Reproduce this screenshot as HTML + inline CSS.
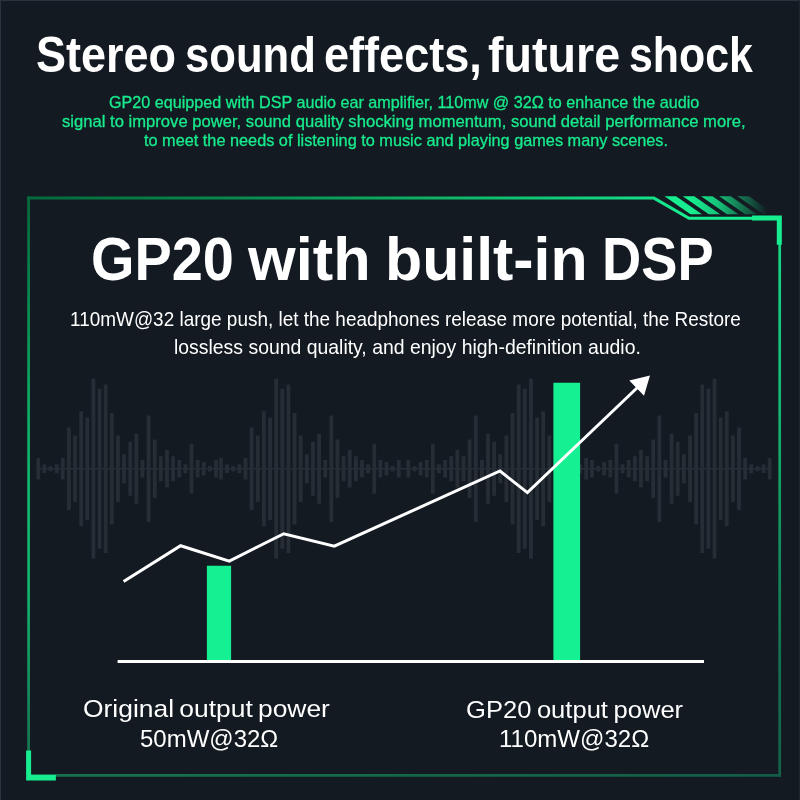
<!DOCTYPE html>
<html><head><meta charset="utf-8"><title>GP20 with built-in DSP</title>
<style>
html,body{margin:0;padding:0;background:#131a22;}
body{width:800px;height:800px;position:relative;overflow:hidden;font-family:"Liberation Sans",sans-serif;}
svg{position:absolute;left:0;top:0;}
.t{position:absolute;white-space:nowrap;line-height:1;transform-origin:0 0;}
h1,h2,p{margin:0;padding:0;font:inherit;}
.w{color:#fff;}
.g{color:#18ea8c;-webkit-text-stroke:0.3px #18ea8c;}
</style></head><body>
<svg width="800" height="800" viewBox="0 0 800 800">
<defs>
<linearGradient id="gt" gradientUnits="userSpaceOnUse" x1="27" y1="0" x2="690" y2="0"><stop offset="0" stop-color="#05693c"/><stop offset="0.291" stop-color="#08874b"/><stop offset="0.593" stop-color="#0eaf64"/><stop offset="0.894" stop-color="#14d782"/><stop offset="1" stop-color="#17ee90"/></linearGradient>
<linearGradient id="gr" gradientUnits="userSpaceOnUse" x1="0" y1="220" x2="0" y2="776"><stop offset="0" stop-color="#17dc88"/><stop offset="0.32" stop-color="#15b872"/><stop offset="0.5" stop-color="#129c61"/><stop offset="0.78" stop-color="#137350"/><stop offset="1" stop-color="#14604a"/></linearGradient>
<linearGradient id="gb" gradientUnits="userSpaceOnUse" x1="30" y1="0" x2="780" y2="0"><stop offset="0" stop-color="#15744e"/><stop offset="1" stop-color="#135c46"/></linearGradient>
<linearGradient id="gl" gradientUnits="userSpaceOnUse" x1="0" y1="198" x2="0" y2="776"><stop offset="0" stop-color="#05693c"/><stop offset="0.17" stop-color="#088a4e"/><stop offset="0.34" stop-color="#0caa60"/><stop offset="0.5" stop-color="#10b86c"/><stop offset="0.68" stop-color="#12b46c"/><stop offset="0.87" stop-color="#148a5a"/><stop offset="0.95" stop-color="#167850"/><stop offset="1" stop-color="#167850"/></linearGradient>
<linearGradient id="gs" gradientUnits="userSpaceOnUse" x1="690" y1="0" x2="768" y2="0"><stop offset="0" stop-color="#17ee90" stop-opacity="1"/><stop offset="0.35" stop-color="#17ee90" stop-opacity="0.8"/><stop offset="1" stop-color="#17ee90" stop-opacity="0"/></linearGradient>
</defs>
<rect x="0" y="0" width="800" height="1" fill="#2a323b"/><rect x="0" y="0" width="1" height="800" fill="#2a323b"/><rect x="799" y="0" width="1" height="800" fill="#1d252d"/>
<g fill="#262d35"><rect x="36.35" y="458.00" width="3.80" height="21.50"/><rect x="42.48" y="464.50" width="3.80" height="8.50"/><rect x="48.61" y="466.15" width="3.80" height="5.20"/><rect x="54.74" y="464.25" width="3.80" height="9.00"/><rect x="60.87" y="458.00" width="3.80" height="21.50"/><rect x="67.00" y="427.50" width="3.80" height="82.50"/><rect x="73.13" y="435.50" width="3.80" height="66.50"/><rect x="79.26" y="411.25" width="3.80" height="115.00"/><rect x="85.39" y="417.50" width="3.80" height="102.50"/><rect x="91.52" y="378.75" width="3.80" height="180.00"/><rect x="97.65" y="388.75" width="3.80" height="160.00"/><rect x="103.78" y="384.50" width="3.80" height="168.50"/><rect x="109.91" y="413.00" width="3.80" height="111.50"/><rect x="116.04" y="435.50" width="3.80" height="66.50"/><rect x="122.17" y="454.25" width="3.80" height="29.00"/><rect x="128.30" y="441.75" width="3.80" height="54.00"/><rect x="134.43" y="433.75" width="3.80" height="70.00"/><rect x="140.56" y="460.00" width="3.80" height="17.50"/><rect x="146.69" y="415.50" width="3.80" height="106.50"/><rect x="152.82" y="439.50" width="3.80" height="58.50"/><rect x="158.95" y="456.25" width="3.80" height="25.00"/><rect x="165.08" y="450.00" width="3.80" height="37.50"/><rect x="171.21" y="456.25" width="3.80" height="25.00"/><rect x="177.34" y="460.00" width="3.80" height="17.50"/><rect x="183.47" y="464.25" width="3.80" height="9.00"/><rect x="189.60" y="443.75" width="3.80" height="50.00"/><rect x="195.73" y="460.00" width="3.80" height="17.50"/><rect x="201.86" y="462.00" width="3.80" height="13.50"/><rect x="207.99" y="466.05" width="3.80" height="5.40"/><rect x="214.12" y="460.00" width="3.80" height="17.50"/><rect x="219.10" y="458.00" width="3.80" height="21.50"/><rect x="225.23" y="464.50" width="3.80" height="8.50"/><rect x="231.36" y="466.15" width="3.80" height="5.20"/><rect x="237.49" y="464.25" width="3.80" height="9.00"/><rect x="243.62" y="458.00" width="3.80" height="21.50"/><rect x="249.75" y="427.50" width="3.80" height="82.50"/><rect x="255.88" y="435.50" width="3.80" height="66.50"/><rect x="262.01" y="411.25" width="3.80" height="115.00"/><rect x="268.14" y="417.50" width="3.80" height="102.50"/><rect x="274.27" y="378.75" width="3.80" height="180.00"/><rect x="280.40" y="388.75" width="3.80" height="160.00"/><rect x="286.53" y="384.50" width="3.80" height="168.50"/><rect x="292.66" y="413.00" width="3.80" height="111.50"/><rect x="298.79" y="435.50" width="3.80" height="66.50"/><rect x="304.92" y="454.25" width="3.80" height="29.00"/><rect x="311.05" y="441.75" width="3.80" height="54.00"/><rect x="317.18" y="433.75" width="3.80" height="70.00"/><rect x="323.31" y="460.00" width="3.80" height="17.50"/><rect x="329.44" y="415.50" width="3.80" height="106.50"/><rect x="335.57" y="439.50" width="3.80" height="58.50"/><rect x="341.70" y="456.25" width="3.80" height="25.00"/><rect x="347.83" y="450.00" width="3.80" height="37.50"/><rect x="353.96" y="456.25" width="3.80" height="25.00"/><rect x="360.09" y="460.00" width="3.80" height="17.50"/><rect x="366.22" y="464.25" width="3.80" height="9.00"/><rect x="372.35" y="443.75" width="3.80" height="50.00"/><rect x="378.48" y="460.00" width="3.80" height="17.50"/><rect x="384.61" y="462.00" width="3.80" height="13.50"/><rect x="390.74" y="466.05" width="3.80" height="5.40"/><rect x="396.87" y="460.00" width="3.80" height="17.50"/><rect x="406.43" y="460.00" width="3.80" height="17.50"/><rect x="412.56" y="466.05" width="3.80" height="5.40"/><rect x="418.69" y="462.00" width="3.80" height="13.50"/><rect x="424.82" y="460.00" width="3.80" height="17.50"/><rect x="430.95" y="443.75" width="3.80" height="50.00"/><rect x="437.08" y="464.25" width="3.80" height="9.00"/><rect x="443.21" y="460.00" width="3.80" height="17.50"/><rect x="449.34" y="456.25" width="3.80" height="25.00"/><rect x="455.47" y="450.00" width="3.80" height="37.50"/><rect x="461.60" y="456.25" width="3.80" height="25.00"/><rect x="467.73" y="439.50" width="3.80" height="58.50"/><rect x="473.86" y="415.50" width="3.80" height="106.50"/><rect x="479.99" y="460.00" width="3.80" height="17.50"/><rect x="486.12" y="433.75" width="3.80" height="70.00"/><rect x="492.25" y="441.75" width="3.80" height="54.00"/><rect x="498.38" y="454.25" width="3.80" height="29.00"/><rect x="504.51" y="435.50" width="3.80" height="66.50"/><rect x="510.64" y="413.00" width="3.80" height="111.50"/><rect x="516.77" y="384.50" width="3.80" height="168.50"/><rect x="522.90" y="388.75" width="3.80" height="160.00"/><rect x="529.03" y="378.75" width="3.80" height="180.00"/><rect x="535.16" y="417.50" width="3.80" height="102.50"/><rect x="541.29" y="411.25" width="3.80" height="115.00"/><rect x="547.42" y="435.50" width="3.80" height="66.50"/><rect x="553.55" y="427.50" width="3.80" height="82.50"/><rect x="559.68" y="458.00" width="3.80" height="21.50"/><rect x="565.81" y="464.25" width="3.80" height="9.00"/><rect x="571.94" y="466.15" width="3.80" height="5.20"/><rect x="578.07" y="464.50" width="3.80" height="8.50"/><rect x="584.20" y="458.00" width="3.80" height="21.50"/><rect x="590.03" y="460.00" width="3.80" height="17.50"/><rect x="596.16" y="466.05" width="3.80" height="5.40"/><rect x="602.29" y="462.00" width="3.80" height="13.50"/><rect x="608.42" y="460.00" width="3.80" height="17.50"/><rect x="614.55" y="443.75" width="3.80" height="50.00"/><rect x="620.68" y="464.25" width="3.80" height="9.00"/><rect x="626.81" y="460.00" width="3.80" height="17.50"/><rect x="632.94" y="456.25" width="3.80" height="25.00"/><rect x="639.07" y="450.00" width="3.80" height="37.50"/><rect x="645.20" y="456.25" width="3.80" height="25.00"/><rect x="651.33" y="439.50" width="3.80" height="58.50"/><rect x="657.46" y="415.50" width="3.80" height="106.50"/><rect x="663.59" y="460.00" width="3.80" height="17.50"/><rect x="669.72" y="433.75" width="3.80" height="70.00"/><rect x="675.85" y="441.75" width="3.80" height="54.00"/><rect x="681.98" y="454.25" width="3.80" height="29.00"/><rect x="688.11" y="435.50" width="3.80" height="66.50"/><rect x="694.24" y="413.00" width="3.80" height="111.50"/><rect x="700.37" y="384.50" width="3.80" height="168.50"/><rect x="706.50" y="388.75" width="3.80" height="160.00"/><rect x="712.63" y="378.75" width="3.80" height="180.00"/><rect x="718.76" y="417.50" width="3.80" height="102.50"/><rect x="724.89" y="411.25" width="3.80" height="115.00"/><rect x="731.02" y="435.50" width="3.80" height="66.50"/><rect x="737.15" y="427.50" width="3.80" height="82.50"/><rect x="743.28" y="458.00" width="3.80" height="21.50"/><rect x="749.41" y="464.25" width="3.80" height="9.00"/><rect x="755.54" y="466.15" width="3.80" height="5.20"/><rect x="761.67" y="464.50" width="3.80" height="8.50"/><rect x="767.80" y="458.00" width="3.80" height="21.50"/><rect x="36" y="467.95" width="736" height="1.6"/></g>
<!-- frame -->
<path d="M27 198.1 H654 L689 218.2 H779.6" fill="none" stroke="url(#gt)" stroke-width="3"/>
<path d="M779.7 218 V776.8" fill="none" stroke="url(#gr)" stroke-width="2.7"/>
<path d="M28.5 775.4 H781" fill="none" stroke="url(#gb)" stroke-width="2.8"/>
<path d="M28.6 196.6 V776" fill="none" stroke="url(#gl)" stroke-width="2.7"/>
<g fill="url(#gs)"><polygon points="664.50,196.3 676.00,196.3 702.00,214.2 690.50,214.2"/><polygon points="682.75,196.3 694.25,196.3 720.25,214.2 708.75,214.2"/><polygon points="701.00,196.3 712.50,196.3 738.50,214.2 727.00,214.2"/><polygon points="719.25,196.3 730.75,196.3 756.75,214.2 745.25,214.2"/><polygon points="737.50,196.3 749.00,196.3 775.00,214.2 763.50,214.2"/></g>
<path d="M752 215.5 H781.8 V244.8 H776.8 V220.6 H752 Z" fill="#17ee90"/>
<path d="M26.1 750.6 H31.1 V774.9 H55.9 V780.4 H26.1 Z" fill="#17ee90"/>
<!-- chart -->
<rect x="206.9" y="565.75" width="24.2" height="95" fill="#14f092"/>
<rect x="553.4" y="382.75" width="26.7" height="278" fill="#14f092"/>
<rect x="117.6" y="660" width="586.4" height="3" fill="#fff"/>
<polyline points="123.6,581.4 180.6,545.75 229.3,561.1 283.75,533.75 334.3,546.2 500,471 527.4,492.6 638,387" fill="none" stroke="#fff" stroke-width="3" stroke-linejoin="miter"/>
<polygon points="650,375.5 629.3,380.5 644,395.7" fill="#fff"/>
</svg>
<h1>
<span class="t w" style="left:36.16px;top:30.40px;font-size:49.5px;font-weight:bold;transform:scaleX(0.9088)">Stereo</span>
<span class="t w" style="left:184.53px;top:30.40px;font-size:49.5px;font-weight:bold;transform:scaleX(0.8816)">sound</span>
<span class="t w" style="left:324.17px;top:30.40px;font-size:49.5px;font-weight:bold;transform:scaleX(0.9107)">effects,</span>
<span class="t w" style="left:487.93px;top:30.40px;font-size:49.5px;font-weight:bold;transform:scaleX(0.9427)">future</span>
<span class="t w" style="left:629.30px;top:30.40px;font-size:49.5px;font-weight:bold;transform:scaleX(0.8658)">shock</span>
</h1>
<p>
<span class="t g" style="left:109.00px;top:94.37px;font-size:16.1px;font-weight:normal;transform:scaleX(1.0041)">GP20 equipped with DSP audio ear amplifier, 110mw @ 32Ω to enhance the audio</span>
<span class="t g" style="left:62.32px;top:113.17px;font-size:16.1px;font-weight:normal;transform:scaleX(1.0326)">signal to improve power, sound quality shocking momentum, sound detail performance more,</span>
<span class="t g" style="left:144.04px;top:131.57px;font-size:16.1px;font-weight:normal;transform:scaleX(1.0117)">to meet the needs of listening to music and playing games many scenes.</span>
</p>
<h2>
<span class="t w" style="left:90.66px;top:229.26px;font-size:60.3px;font-weight:bold;transform:scaleX(0.9268)">GP20</span>
<span class="t w" style="left:248.30px;top:229.26px;font-size:60.3px;font-weight:bold;transform:scaleX(1.0170)">with</span>
<span class="t w" style="left:384.89px;top:229.26px;font-size:60.3px;font-weight:bold;transform:scaleX(1.0085)">built-in</span>
<span class="t w" style="left:601.58px;top:229.26px;font-size:60.3px;font-weight:bold;transform:scaleX(0.9002)">DSP</span>
</h2>
<p>
<span class="t w" style="left:70.33px;top:309.94px;font-size:19.8px;font-weight:normal;transform:scaleX(0.9579)">110mW@32 large push, let the headphones release more potential, the Restore</span>
<span class="t w" style="left:173.95px;top:338.24px;font-size:19.8px;font-weight:normal;transform:scaleX(0.9812)">lossless sound quality, and enjoy high-definition audio.</span>
</p>
<p>
<span class="t w" style="left:82.84px;top:696.68px;font-size:24.6px;font-weight:normal;word-spacing:-2.0px;transform:scaleX(1.0746)">Original output power</span>
<span class="t w" style="left:140.25px;top:726.58px;font-size:24.6px;font-weight:normal;transform:scaleX(0.9752)">50mW@32Ω</span>
</p>
<p>
<span class="t w" style="left:466.22px;top:698.38px;font-size:24.6px;font-weight:normal;word-spacing:-1.5px;transform:scaleX(1.0393)">GP20 output power</span>
<span class="t w" style="left:499.20px;top:726.58px;font-size:24.6px;font-weight:normal;transform:scaleX(0.9773)">110mW@32Ω</span>
</p>

</body></html>
